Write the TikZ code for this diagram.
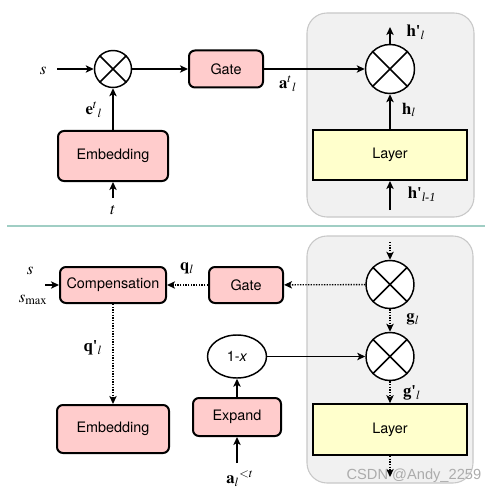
\documentclass[tikz,border=0pt]{standalone}
\usepackage{amsmath}
\usepackage{mathptmx}
\usepackage[no-math]{fontspec}
\setmainfont{Liberation Serif}
\newfontfamily\boxfont{TeX Gyre Heros}
\newfontfamily\markfont{Liberation Sans}
\usetikzlibrary{arrows.meta}
\usetikzlibrary{shapes.geometric}
\usetikzlibrary{positioning}
\definecolor{mpink}{RGB}{255,204,204}
\definecolor{myellow}{RGB}{255,255,204}
\definecolor{mpanel}{RGB}{241,241,241}
\definecolor{mpanelline}{RGB}{200,200,200}
\definecolor{msep}{RGB}{160,206,196}
\newcommand{\lblfont}{\fontsize{12.5}{14}\selectfont}
\newcommand{\blkfont}{\boxfont\fontsize{10.8}{13}\selectfont}
\newcommand{\pr}{\textbf{\textquotesingle}}
\tikzset{block/.style = {draw, line width=1.5pt, rounded corners=4.5pt, fill=mpink,
                         font=\blkfont, minimum width=55.5pt, minimum height=27.75pt,
                         inner sep=0pt},
         layerbox/.style = {draw, line width=1.5pt, fill=myellow, font=\blkfont,
                            minimum width=115.5pt, minimum height=37.5pt},
         mult/.style = {draw, circle, line width=1.1pt, fill=white,
                        minimum size=27.75pt, inner sep=0pt},
         panel/.style = {draw=mpanelline, fill=mpanel, line width=0.8pt,
                         rounded corners=15pt},
         arr/.style = {-{Stealth[length=6pt, width=5.5pt, inset=1.5pt]}, line width=1pt},
         darr/.style = {arr, densely dotted}}
\newcommand{\crossit}[1]{\draw [line width=1.1pt] (#1.north west) -- (#1.south east)
                                                  (#1.north east) -- (#1.south west);}

\begin{document}
\begin{tikzpicture}[x=7.5pt, y=-7.5pt, font=\lblfont]
      \useasboundingbox (0, 0) rectangle (49.8, 49.5);

      \draw [panel] (30.7, 1.3) rectangle (47.4, 21.7);
      \draw [panel] (30.7, 23.6) rectangle (47.3, 48.3);
      \draw [msep, line width=1.5pt] (0.7, 22.55) -- (48.5, 22.55);

      \node [mult] (mulE) at (11.3, 6.9) {};
      \crossit{mulE}
      \node [block] (gateA) at (22.6, 6.9) {Gate};
      \node [block, minimum width=82.5pt, minimum height=37.5pt] (embA) at (11.3, 15.6) {Embedding};
      \node [mult, minimum size=36.75pt] (mulH) at (39.0, 6.9) {};
      \crossit{mulH}
      \node [layerbox] (layA) at (39.0, 15.5) {Layer};

      \coordinate (sIn) at (5.7, 6.9);
      \coordinate (tIn) at (11.3, 19.8);
      \coordinate (hOut) at (39.0, 2.7);
      \coordinate (hIn) at (39.0, 21.0);

      \draw [arr] (sIn) -- (mulE);
      \draw [arr] (mulE) -- (gateA);
      \draw [arr] (embA) -- (mulE);
      \draw [arr] (tIn) -- (embA);
      \draw [arr] (gateA) -- (mulH);
      \draw [arr] (layA) -- (mulH);
      \draw [arr] (mulH) -- (hOut);
      \draw [arr] (hIn) -- (layA);

      \node (sLab) at (4.3, 7.1) {$s$};
      \node (eLab) at (9.4, 11.0) {${\mathbf{e}^{t}}_{l}$};
      \node (tLab) at (11.3, 21.0) {$t$};
      \node (aLab) at (28.8, 8.4) {${\mathbf{a}^{t}}_{l}$};
      \node (hpLab) at (41.6, 3.2) {$\textbf{h}\pr_{l}$};
      \node (hLab) at (40.9, 11.0) {$\mathbf{h}_{l}$};
      \node (hmLab) at (42.2, 19.4) {$\textbf{h}\pr_{\textit{l-1}}$};

      \node [block, minimum width=79.5pt, minimum height=27pt] (comp) at (11.3, 28.5) {Compensation};
      \node [block, minimum height=27pt] (gateB) at (24.6, 28.5) {Gate};
      \node [block, minimum width=84pt, minimum height=36pt] (embB) at (11.3, 42.9) {Embedding};
      \node [block, minimum width=66pt, minimum height=28.5pt] (expand) at (23.7, 41.7) {Expand};
      \node [draw, ellipse, line width=1.1pt, fill=white, font=\blkfont, inner sep=0pt,
             minimum width=44.25pt, minimum height=32.25pt] (inv) at (23.7, 35.65) {1-\textit{x}};
      \node [mult, minimum size=36pt] (mulG) at (39.0, 28.45) {};
      \crossit{mulG}
      \node [mult, minimum size=36pt] (mulQ) at (39.0, 35.65) {};
      \crossit{mulQ}
      \node [layerbox, minimum height=38pt] (layB) at (39.0, 42.95) {Layer};

      \coordinate (sBIn) at (4.5, 28.5);
      \coordinate (gIn) at (39.0, 24.2);
      \coordinate (gOut) at (39.0, 47.7);
      \coordinate (aIn) at (23.7, 46.3);

      \draw [arr] (sBIn) -- (comp);
      \draw [darr] (gateB) -- (comp);
      \draw [darr] (mulG) -- (gateB);
      \draw [darr] (comp) -- (embB);
      \draw [darr] (gIn) -- (mulG);
      \draw [darr] (mulG) -- (mulQ);
      \draw [darr] (mulQ) -- (layB);
      \draw [darr] (layB) -- (gOut);
      \draw [arr] (inv) -- (mulQ);
      \draw [arr] (expand) -- (inv);
      \draw [arr] (aIn) -- (expand);

      \node (sbLab) at (3.0, 27.1) {$s$};
      \node (smLab) at (3.3, 30.0) {$s_{\max}$};
      \node (qLab) at (18.7, 26.8) {$\mathbf{q}_{l}$};
      \node (qpLab) at (9.3, 34.8) {$\textbf{q}\pr_{l}$};
      \node (gLab) at (41.3, 31.9) {$\mathbf{g}_{l}$};
      \node (gpLab) at (41.2, 39.3) {$\textbf{g}\pr_{l}$};
      \node (abLab) at (24.0, 47.9) {${\mathbf{a}_{l}}^{<t}$};

      \node [anchor=east, text=gray!65, font=\markfont\fontsize{11}{12}\selectfont] (mark) at (48.6, 47.6) {CSDN @Andy\_2259};
    \end{tikzpicture}
\end{document}
